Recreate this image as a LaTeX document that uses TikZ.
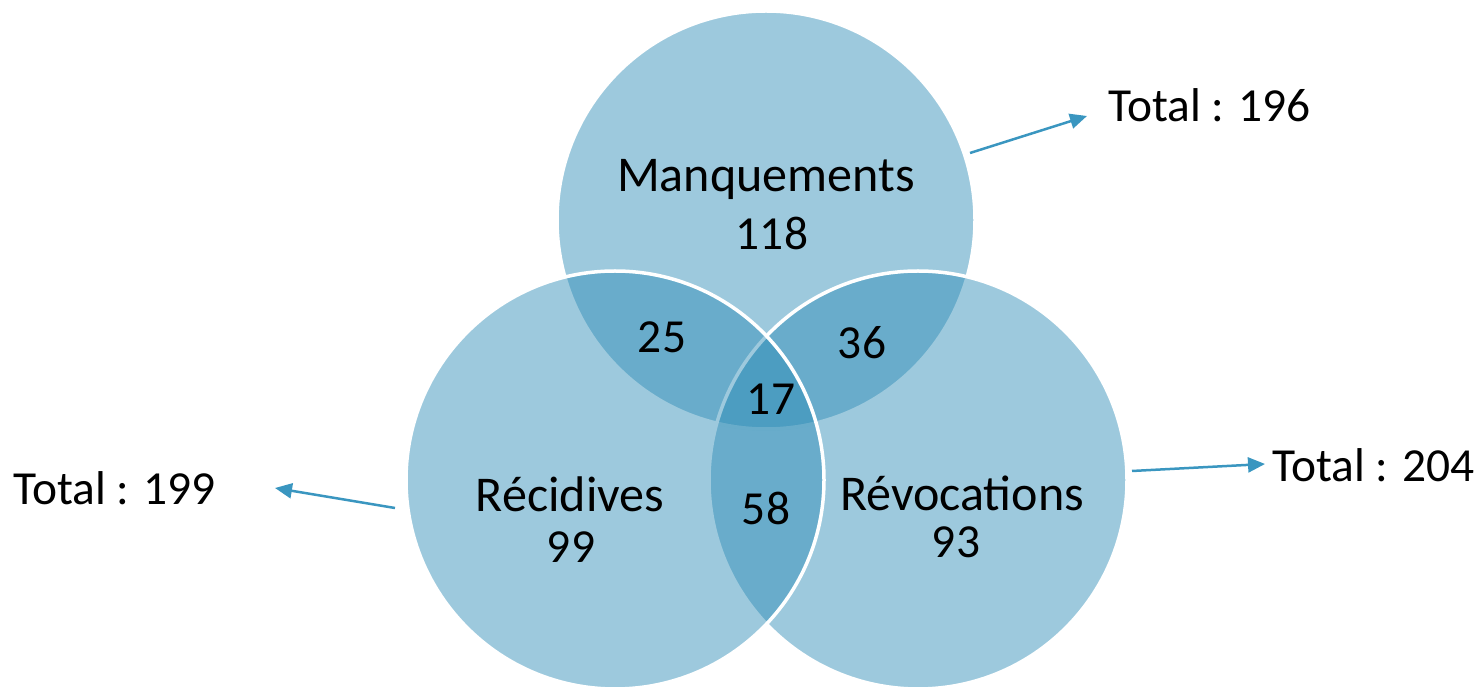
\documentclass[tikz,border=0pt]{standalone}
\usepackage{fontspec}
\setmainfont{Carlito}
\usetikzlibrary{arrows.meta}

\definecolor{vennblue}{RGB}{42,138,181}
\definecolor{arrowblue}{RGB}{58,150,192}

\begin{document}
\begin{tikzpicture}[x=0.02cm, y=-0.02cm, >={Triangle[length=0.34cm, width=0.3cm]}]
% --- Global Styles ---
\tikzstyle{venn} = [draw=white, line width=0.07cm, fill=vennblue, fill opacity=0.46]
\tikzstyle{vtext} = [font=\fontsize{28.5}{34}\selectfont, inner sep=0pt, anchor=base]
\tikzstyle{vnum} = [vtext, font=\fontsize{27}{32}\selectfont]
\tikzstyle{total} = [vnum, anchor=base west]
\tikzstyle{pointer} = [->, arrowblue, line width=0.05cm]

% --- Circle Centres ---
\def\r{209}    % common radius
\def\xm{766}   \def\ym{220}   % Manquements
\def\xv{918}   \def\yv{480}   % Revocations
\def\xc{615}   \def\yc{480}   % Recidives

\useasboundingbox (0,0) rectangle (1477,688);

% ==========================================
% CIRCLES (top, right, left)
% ==========================================
\draw[venn] (\xm,\ym) circle[radius=\r];
\draw[venn] (\xv,\yv) circle[radius=\r];
\draw[venn] (\xc,\yc) circle[radius=\r];

% ==========================================
% REGION LABELS
% ==========================================
\node[vtext] (manq) at (\xm,192) {Manquements};
\node[vnum] (manqn) at (772,250) {118};
\node[vtext] (recid) at (570,512) {Récidives};
\node[vnum] (recidn) at (571,563) {99};
\node[vtext] (revoc) at (962,511) {Révocations};
\node[vnum] (revocn) at (956,558) {93};

% Overlaps
\node[vnum] (mc) at (662,353) {25};
\node[vnum] (mv) at (862,359) {36};
\node[vnum] (cv) at (766,525) {58};
\node[vnum] (mcv) at (771,415) {17};

% ==========================================
% TOTALS
% ==========================================
\node[total] (totm) at (1108,122) {Total : 196};
\node[total] (totc) at (13,505) {Total : 199};
\node[total] (totv) at (1272,482) {Total : 204};

% Pointer end points
\coordinate (pm0) at (970,153);  \coordinate (pm1) at (1087,116);
\coordinate (pc0) at (395,508);  \coordinate (pc1) at (275,488);
\coordinate (pv0) at (1132,471); \coordinate (pv1) at (1265,464);

\draw[pointer] (pm0) -- (pm1);
\draw[pointer] (pc0) -- (pc1);
\draw[pointer] (pv0) -- (pv1);

\end{tikzpicture}
\end{document}
